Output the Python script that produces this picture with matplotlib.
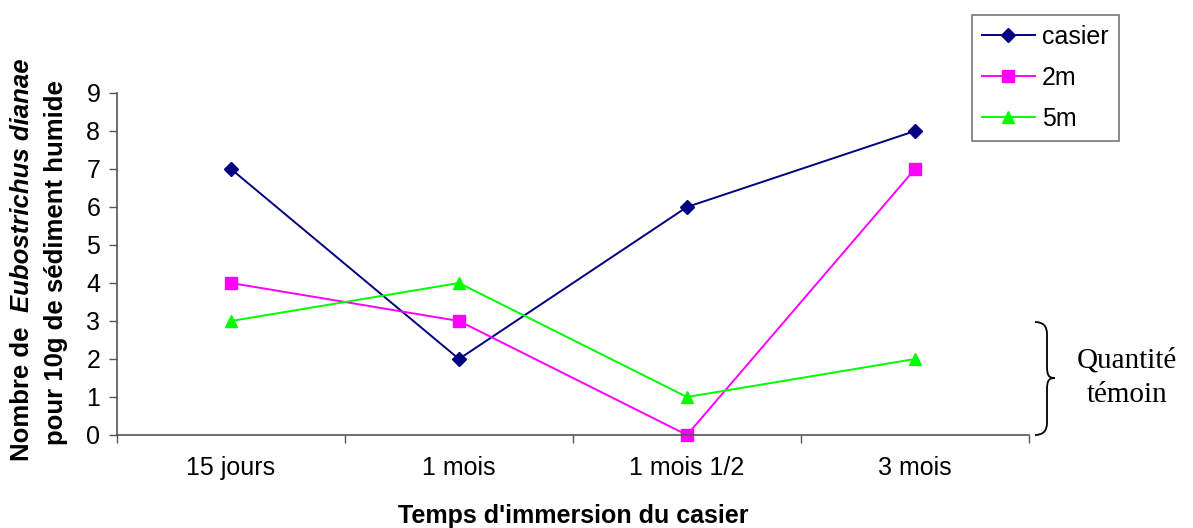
import matplotlib
matplotlib.use("Agg")
import matplotlib.pyplot as plt
from matplotlib.path import Path
from matplotlib.patches import PathPatch

# Data
periods = ["15 jours", "1 mois", "1 mois 1/2", "3 mois"]
casier = [7, 2, 6, 8]
depth_2m = [4, 3, 0, 7]
depth_5m = [3, 4, 1, 2]

W, H = 1193, 528
plt.rcParams["font.family"] = ["Liberation Sans", "DejaVu Sans"]

fig = plt.figure(figsize=(W / 100, H / 100), dpi=100)
ax = fig.add_axes([117 / W, 1 - 435 / H, (1029 - 117) / W, (435 - 93) / H])

xpos = [i + 0.5 for i in range(len(periods))]
ax.plot(xpos, casier, color="#000080", marker="D", markersize=7.5, lw=1.4,
        label="casier", clip_on=False)
ax.plot(xpos, depth_2m, color="#FF00FF", marker="s", markersize=8, lw=1.4,
        label="2m", clip_on=False)
ax.plot(xpos, depth_5m, color="#00FF00", marker="^", markersize=9, lw=1.4,
        label="5m", clip_on=False)

ax.set_xlim(0, len(periods))
ax.set_ylim(0, 9)
ax.set_yticks(range(0, 10))
ax.set_xticks(range(0, len(periods) + 1))
ax.set_xticklabels([])
ax.set_xticks(xpos, minor=True)
ax.set_xticklabels(periods, minor=True)
ax.tick_params(axis="x", which="minor", length=0, pad=15, labelsize=18)
ax.tick_params(axis="x", which="major", length=6, direction="out",
               color="#555555", width=1)
ax.tick_params(axis="y", length=6, direction="out", color="#555555",
               width=1, labelsize=18, pad=6)

for s in ("top", "right"):
    ax.spines[s].set_visible(False)
for s in ("left", "bottom"):
    ax.spines[s].set_color("#555555")
    ax.spines[s].set_linewidth(1.2)

fig.text(573 / W, 1 - 516 / H, "Temps d'immersion du casier", ha="center",
         va="center", fontsize=18, fontweight="bold")

# Y label, two lines, species name in italics
fig.text(56 / W, 1 - 263 / H, "pour 10g de sédiment humide", rotation=90,
         ha="center", va="center", fontsize=18.5, fontweight="bold")
fig.canvas.draw()
r = fig.canvas.get_renderer()
t1 = fig.text(22 / W, 0, "Nombre de  ", rotation=90, ha="center",
              va="bottom", fontsize=18.5, fontweight="bold")
t2 = fig.text(22 / W, 0, "Eubostrichus dianae", rotation=90, ha="center",
              va="bottom", fontsize=18.5, fontweight="bold", style="italic")
h1 = t1.get_window_extent(r).height
h2 = t2.get_window_extent(r).height
yc = H - 260
y0 = yc - (h1 + h2) / 2
t1.set_y(y0 / H)
t2.set_y((y0 + h1) / H)

# Legend
leg = ax.legend(loc="upper left", bbox_to_anchor=(972 / W, 1 - 15 / H),
                bbox_transform=fig.transFigure, fontsize=18, frameon=True,
                fancybox=False, edgecolor="#555555", handlelength=2.1,
                borderpad=0.4, labelspacing=0.68, handletextpad=0.3,
                borderaxespad=0)
leg.get_frame().set_linewidth(1.2)

# Brace
pts = [(1035, 322), (1047, 322), (1047, 334), (1047, 366),
       (1047, 376), (1049, 378), (1055, 378),
       (1049, 378), (1047, 380), (1047, 390),
       (1047, 423), (1047, 435), (1035, 435)]
codes = [Path.MOVETO, Path.CURVE3, Path.CURVE3, Path.LINETO,
         Path.CURVE4, Path.CURVE4, Path.CURVE4,
         Path.CURVE4, Path.CURVE4, Path.CURVE4,
         Path.LINETO, Path.CURVE3, Path.CURVE3]
verts = [(x / W, 1 - y / H) for x, y in pts]
fig.patches.append(PathPatch(Path(verts, codes), transform=fig.transFigure,
                             fill=False, lw=1.3, edgecolor="black"))
fig.text(1127 / W, 1 - 378 / H, "Quantité\ntémoin", ha="center", va="center",
         fontsize=21, family="Liberation Serif", linespacing=1.45)

fig.savefig("out.png", dpi=100)
